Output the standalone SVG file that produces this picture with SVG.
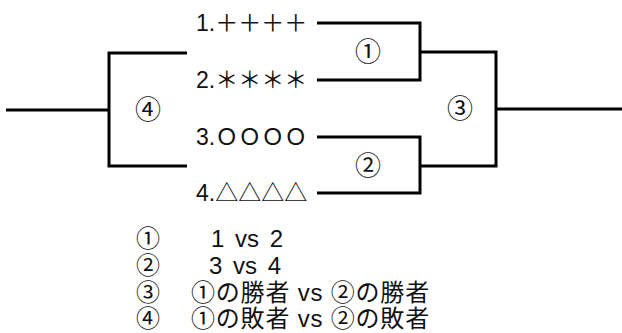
<svg xmlns="http://www.w3.org/2000/svg" width="622" height="333" viewBox="0 0 622 333">
<style>
.c{fill:none;stroke:#000;stroke-width:3;stroke-linejoin:miter;stroke-linecap:butt}
text{font-family:"Liberation Sans","Noto Sans CJK JP",sans-serif;fill:#111;dominant-baseline:central}
.l{font-size:23px}
.n{font-size:26px;text-anchor:middle}
.g{font-size:24px}
</style>
<rect width="622" height="333" fill="#fff"/>
<g id="connectors">
<path class="c" d="M6,110H109"/>
<path class="c" d="M187,53H109V166H187"/>
<path class="c" d="M317,23H420V80H317"/>
<path class="c" d="M317,137H420V193H317"/>
<path class="c" d="M420,52H496V166H420"/>
<path class="c" d="M496,109H622"/>
</g>
<g id="p1"><text class="l" x="196" y="23">1.＋＋＋＋</text></g>
<g id="p2"><text class="l" x="196" y="80">2.＊＊＊＊</text></g>
<g id="p3"><text class="l" x="196" y="137">3.ＯＯＯＯ</text></g>
<g id="p4"><text class="l" x="196" y="193">4.△△△△</text></g>
<g id="m1"><text class="n" x="368" y="52">①</text></g>
<g id="m2"><text class="n" x="368" y="166">②</text></g>
<g id="m3"><text class="n" x="460" y="109">③</text></g>
<g id="m4"><text class="n" x="148" y="110">④</text></g>
<g id="legend">
<text class="g" x="136" y="238">①</text><text class="g" x="211" y="238" word-spacing="4">1 vs 2</text>
<text class="g" x="136" y="265">②</text><text class="g" x="209" y="265" word-spacing="4">3 vs 4</text>
<text class="g" x="136" y="292">③</text><text class="g" x="191" y="292" letter-spacing="0.8">①の勝者 vs ②の勝者</text>
<text class="g" x="136" y="318">④</text><text class="g" x="191" y="318" letter-spacing="0.8">①の敗者 vs ②の敗者</text>
</g>
</svg>
